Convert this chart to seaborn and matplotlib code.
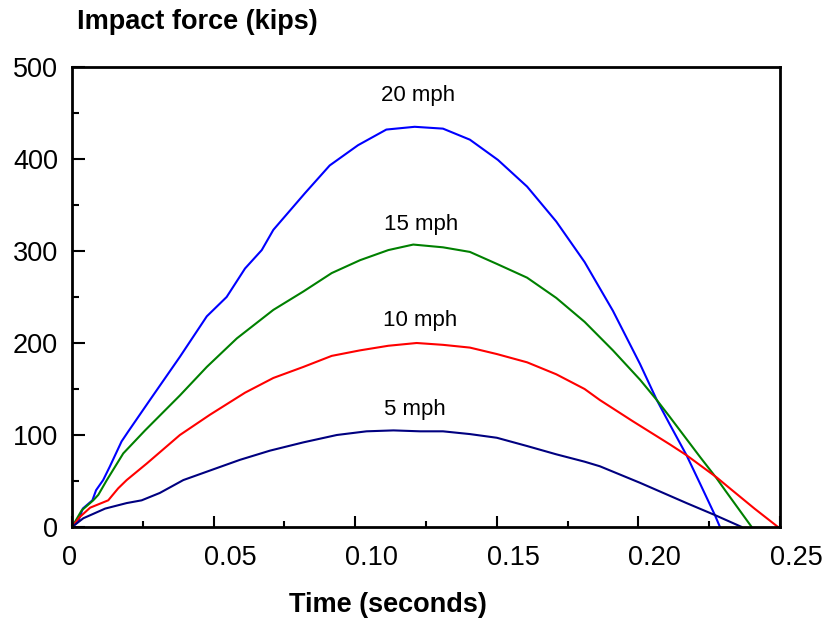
import matplotlib
matplotlib.use("Agg")
import matplotlib.pyplot as plt
from matplotlib.transforms import ScaledTranslation
from matplotlib.ticker import MultipleLocator
import pandas as pd
import seaborn as sns

# ---- data ----
t20 = [0, 0.0022, 0.0038, 0.0072, 0.0085, 0.011, 0.0134, 0.0175, 0.0199, 0.0275,
       0.0381, 0.0476, 0.0546, 0.0611, 0.067, 0.0711, 0.0823, 0.091, 0.101, 0.111,
       0.121, 0.131, 0.1405, 0.1504, 0.1607, 0.171, 0.181, 0.191, 0.2006, 0.2065,
       0.211, 0.217, 0.2218, 0.227, 0.2288]
F20 = [0, 6, 20, 29, 40, 51, 66, 93, 104, 138,
       185, 229, 250, 281, 301, 323, 363, 393, 415, 432,
       435, 433, 421, 399, 370, 332, 288, 235, 177, 138,
       112, 78, 47, 13, 0]

t15 = [0, 0.0034, 0.0075, 0.0093, 0.0123, 0.0181, 0.0258, 0.0381, 0.0476, 0.0582,
       0.0711, 0.0817, 0.0917, 0.1017, 0.1117, 0.1205, 0.131, 0.1405, 0.150, 0.1607,
       0.171, 0.181, 0.191, 0.2006, 0.2065, 0.211, 0.2218, 0.2276, 0.2306, 0.240]
F15 = [0, 18, 29, 35, 51, 80, 105, 143, 174, 205,
       236, 256, 276, 290, 301, 307, 304, 299, 286, 271,
       249, 223, 192, 160, 138, 120, 76, 53, 40, 0]

t10 = [0, 0.0028, 0.0064, 0.0128, 0.0163, 0.0193, 0.0264, 0.0381, 0.0487, 0.0611,
       0.0711, 0.0817, 0.0917, 0.1017, 0.1117, 0.1217, 0.131, 0.1405, 0.150, 0.1607,
       0.171, 0.181, 0.1864, 0.198, 0.211, 0.217, 0.2276, 0.2323, 0.241, 0.2493]
F10 = [0, 11, 21, 29, 42, 51, 69, 100, 122, 146,
       162, 174, 186, 192, 197, 200, 198, 195, 188, 179,
       166, 150, 138, 115, 90, 78, 54, 42, 20, 0]

t5 = [0, 0.004, 0.0117, 0.0193, 0.0246, 0.031, 0.0393, 0.0511, 0.0593, 0.0699,
      0.0817, 0.0935, 0.104, 0.1135, 0.1229, 0.131, 0.1405, 0.150, 0.1607, 0.171,
      0.181, 0.1864, 0.2006, 0.217, 0.227, 0.2365]
F5 = [0, 9.5, 20, 26, 29, 37, 51, 64, 73, 83,
      92, 100, 104, 105, 104, 104, 101, 97, 88, 79,
      71, 66, 48, 26, 13, 0]

speeds = ["20 mph", "15 mph", "10 mph", "5 mph"]
colors = ["#0000FF", "#008000", "#FF0000", "#000080"]
label_x = [0.1222, 0.1232, 0.1229, 0.1212]
label_y = [463, 323, 218, 122]

x_ticks = [0, 0.05, 0.10, 0.15, 0.20, 0.25]
x_tick_labels = ["0", "0.05", "0.10", "0.15", "0.20", "0.25"]
y_ticks = [0, 100, 200, 300, 400, 500]
y_tick_labels = ["0", "100", "200", "300", "400", "500"]

# ---- style ----
sns.set_style("ticks")
plt.rcParams['font.family'] = ['Liberation Sans', 'DejaVu Sans']
plt.rcParams['text.color'] = 'black'

frames = []
for name, t, f in zip(speeds, [t20, t15, t10, t5], [F20, F15, F10, F5]):
    frames.append(pd.DataFrame({"time": t, "force": f, "speed": name}))
df = pd.concat(frames, ignore_index=True)

W, H = 823, 622
fig = plt.figure(figsize=(W / 100, H / 100), dpi=100)
ax = fig.add_axes([72 / W, 1 - 527 / H, 708 / W, 460 / H])

sns.lineplot(data=df, x="time", y="force", hue="speed",
             palette=dict(zip(speeds, colors)), sort=False, estimator=None,
             linewidth=1.5, legend=False, ax=ax)

ax.set_xlim(0, 0.25)
ax.set_ylim(0, 500)
ax.set_xlabel("")
ax.set_ylabel("")

for s in ax.spines.values():
    s.set_visible(True)
    s.set_linewidth(2.0)
    s.set_color("black")

ax.set_xticks(x_ticks)
ax.set_xticklabels(x_tick_labels, ha="left")
ax.set_yticks(y_ticks)
ax.set_yticklabels(y_tick_labels)
ax.xaxis.set_minor_locator(MultipleLocator(0.025))
ax.yaxis.set_minor_locator(MultipleLocator(50))

ax.tick_params(axis="x", which="major", direction="in", length=8, width=1.5,
               labelsize=19.5, pad=13, colors="black")
ax.tick_params(axis="x", which="minor", direction="in", length=4, width=1.5,
               colors="black")
ax.tick_params(axis="y", which="major", direction="in", length=9.5, width=1.5,
               labelsize=19.5, pad=10, colors="black")
ax.tick_params(axis="y", which="minor", direction="in", length=5, width=1.5,
               colors="black")

offset = ScaledTranslation(-10 / 100, 0, fig.dpi_scale_trans)
for lbl in ax.xaxis.get_majorticklabels():
    lbl.set_transform(lbl.get_transform() + offset)

for name, x, y in zip(speeds, label_x, label_y):
    ax.text(x, y, name, ha="center", va="baseline", fontsize=16, color="black")

fig.text(77 / W, 1 - 22 / H, "Impact force (kips)", ha="left", va="center",
         fontsize=19.5, fontweight="bold", color="black")
fig.text(388 / W, 1 - 605 / H, "Time (seconds)", ha="center", va="center",
         fontsize=19.5, fontweight="bold", color="black")

fig.savefig("out.png", dpi=100)
